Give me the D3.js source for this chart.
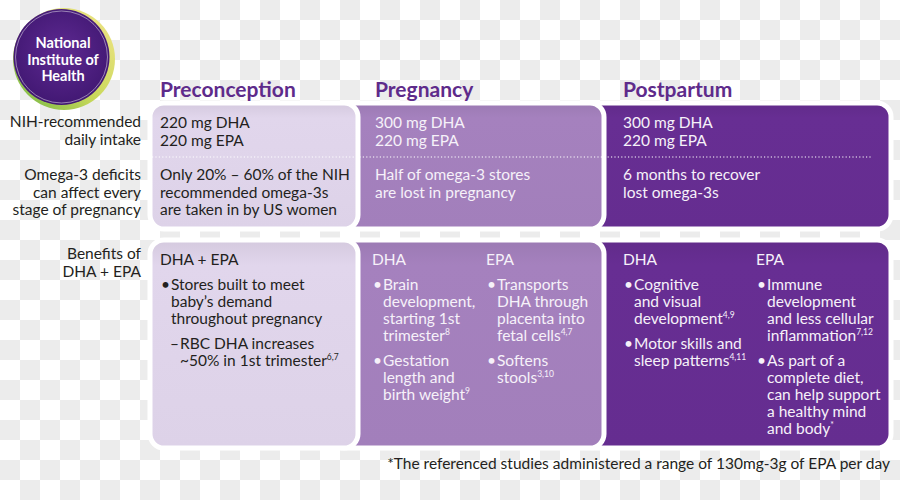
<!DOCTYPE html>
<html><head><meta charset="utf-8">
<script src="https://cdn.jsdelivr.net/npm/d3@7"></script>
<style>body{margin:0;background:#fff;} svg{display:block;font-family:Lato, "Open Sans", sans-serif;}</style>
</head><body><svg id="c" width="900" height="500"></svg>
<script>
// ---------- data ----------
const stages = ["Preconception", "Pregnancy", "Postpartum"];
const rowLabels = [
  ["NIH-recommended", "daily intake"],
  ["Omega-3 deficits", "can affect every", "stage of pregnancy"],
  ["Benefits of", "DHA + EPA"]
];
const intake = [
  ["220 mg DHA", "220 mg EPA"],
  ["300 mg DHA", "220 mg EPA"],
  ["300 mg DHA", "220 mg EPA"]
];
const deficits = [
  ["Only 20% – 60% of the NIH", "recommended omega-3s", "are taken in by US women"],
  ["Half of omega-3 stores", "are lost in pregnancy"],
  ["6 months to recover", "lost omega-3s"]
];
const benefitsPreconception = [
  {head: "DHA + EPA", items: [
    {level: 1, lines: ["Stores built to meet", "baby’s demand", "throughout pregnancy"], sup: ""},
    {level: 2, lines: ["RBC DHA increases", "~50% in 1st trimester"], sup: "6,7"}
  ]}
];
const benefitsPregnancy = [
  {head: "DHA", items: [
    {level: 1, lines: ["Brain", "development,", "starting 1st", "trimester"], sup: "8"},
    {level: 1, lines: ["Gestation", "length and", "birth weight"], sup: "9"}
  ]},
  {head: "EPA", items: [
    {level: 1, lines: ["Transports", "DHA through", "placenta into", "fetal cells"], sup: "4,7"},
    {level: 1, lines: ["Softens", "stools"], sup: "3,10"}
  ]}
];
const benefitsPostpartum = [
  {head: "DHA", items: [
    {level: 1, lines: ["Cognitive", "and visual", "development"], sup: "4,9"},
    {level: 1, lines: ["Motor skills and", "sleep patterns"], sup: "4,11"}
  ]},
  {head: "EPA", items: [
    {level: 1, lines: ["Immune", "development", "and less cellular", "inflammation"], sup: "7,12"},
    {level: 1, lines: ["As part of a", "complete diet,", "can help support", "a healthy mind", "and body"], sup: "*"}
  ]}
];
const benefits = [benefitsPreconception, benefitsPregnancy, benefitsPostpartum];
const logoLines = ["National", "Institute of", "Health"];
const footnote = "*The referenced studies administered a range of 130mg-3g of EPA per day";

// ---------- layout ----------
const FS = 15.5;
const svg = d3.select("#c");
const defs = svg.append("defs");

// checkerboard background (transparent-image look)
const pat = defs.append("pattern").attr("id", "chk").attr("width", 40).attr("height", 40)
  .attr("patternUnits", "userSpaceOnUse");
pat.append("rect").attr("width", 40).attr("height", 40).attr("fill", "#ffffff");
pat.append("rect").attr("x", 20).attr("y", 0).attr("width", 20).attr("height", 20).attr("fill", "#ececec");
pat.append("rect").attr("x", 0).attr("y", 20).attr("width", 20).attr("height", 20).attr("fill", "#ececec");
svg.append("rect").attr("width", 900).attr("height", 500).attr("fill", "url(#chk)");

const fills = ["#ddd2e8", "#a27fbb", "#652d90"];
const textCol = ["#231f20", "#f6f1f9", "#f6f1f9"];
const colX = d3.scaleOrdinal().domain(stages).range([160, 375, 623]);       // text start per stage
const cardL = d3.scaleOrdinal().domain(stages).range([150, 330, 580]);      // card left edge
const cardR = d3.scaleOrdinal().domain(stages).range([358, 604, 891]);      // card right edge
const rowY = {top: [103, 229], bottom: [240, 448]};

// gradients for cards
fills.forEach((f, i) => {
  const g = defs.append("linearGradient").attr("id", "g" + i).attr("x1", 0).attr("y1", 0).attr("x2", 0).attr("y2", 1);
  const c = d3.color(f);
  g.append("stop").attr("offset", 0).attr("stop-color", c.darker(0.12));
  g.append("stop").attr("offset", 0.12).attr("stop-color", c.brighter(0.05));
  g.append("stop").attr("offset", 1).attr("stop-color", f);
});

// cards drawn back to front
const order = stages.map((s, i) => i).reverse();
["top", "bottom"].forEach(r => {
  order.forEach(i => {
    const s = stages[i];
    svg.append("rect")
      .attr("x", cardL(s)).attr("y", rowY[r][0])
      .attr("width", cardR(s) - cardL(s)).attr("height", rowY[r][1] - rowY[r][0])
      .attr("rx", 14).attr("ry", 14)
      .attr("fill", `url(#g${i})`)
      .attr("stroke", "#ffffff").attr("stroke-width", 5);
  });
});

// dotted separator
svg.append("line").attr("x1", 152).attr("x2", 872).attr("y1", 157).attr("y2", 157)
  .attr("stroke", "#ffffff").attr("stroke-width", 1.2).attr("stroke-dasharray", "1.2,2.2");

// stage headers
svg.selectAll("text.hdr").data(stages).join("text").attr("class", "hdr")
  .attr("x", d => colX(d)).attr("y", 97)
  .attr("font-size", 21).attr("font-weight", 700).attr("fill", "#5e2b8b")
  .text(d => d);

// helper: one text element per line
function lines(arr, x, y, lh, col, anchor) {
  svg.append("g").selectAll("text").data(arr).join("text")
    .attr("x", x).attr("y", (d, k) => y + k * lh)
    .attr("font-size", FS).attr("fill", col)
    .attr("text-anchor", anchor || "start")
    .text(d => d);
}

// row labels
const rowBase = [127, 180, 259];
rowLabels.forEach((arr, r) => lines(arr, 141, rowBase[r], 17.5, "#231f20", "end"));

stages.forEach((s, i) => {
  lines(intake[i], colX(s), 128, 18, textCol[i]);
  lines(deficits[i], colX(s), 180, 17.5, textCol[i]);
});

// benefits
const subColX = [[160], [372, 486], [623, 756]];
benefits.forEach((cols, i) => {
  cols.forEach((col, j) => {
    const x = subColX[i][j];
    const c = textCol[i];
    svg.append("text").attr("x", x).attr("y", 265).attr("font-size", FS).attr("fill", c).text(col.head);
    let y = 290;
    col.items.forEach(it => {
      const bx = it.level === 1 ? x + 1 : x + 10;
      const tx = it.level === 1 ? x + 11 : x + 20;
      svg.append("text").attr("x", bx).attr("y", y).attr("font-size", FS).attr("fill", c)
        .text(it.level === 1 ? "•" : "–");
      it.lines.forEach((ln, k) => {
        const t = svg.append("text").attr("x", tx).attr("y", y + k * 17)
          .attr("font-size", FS).attr("fill", c);
        t.append("tspan").text(ln);
        if (it.sup && k === it.lines.length - 1) {
          t.append("tspan").attr("font-size", 8.5).attr("dy", -6).text(it.sup);
        }
      });
      y += it.lines.length * 17 + 8;
    });
  });
});

// footnote
svg.append("text").attr("x", 890).attr("y", 469).attr("text-anchor", "end")
  .attr("font-size", FS).attr("fill", "#231f20").text(footnote);

// logo
const lg = defs.append("linearGradient").attr("id", "ring").attr("x1", 0).attr("y1", 1).attr("x2", 1).attr("y2", 0);
lg.append("stop").attr("offset", 0).attr("stop-color", "#6fb544");
lg.append("stop").attr("offset", 0.45).attr("stop-color", "#c8d85a");
lg.append("stop").attr("offset", 1).attr("stop-color", "#f3e58a");
const rg = defs.append("radialGradient").attr("id", "disc").attr("cx", 0.5).attr("cy", 0.45).attr("r", 0.6);
rg.append("stop").attr("offset", 0).attr("stop-color", "#5e2a92");
rg.append("stop").attr("offset", 1).attr("stop-color", "#3f1670");
const logo = svg.append("g");
logo.append("circle").attr("cx", 64).attr("cy", 59).attr("r", 51).attr("fill", "url(#ring)");
logo.append("circle").attr("cx", 61.5).attr("cy", 57).attr("r", 48).attr("fill", "url(#disc)");
logo.append("circle").attr("cx", 61.5).attr("cy", 57).attr("r", 46).attr("fill", "none")
  .attr("stroke", "#ffffff").attr("stroke-opacity", 0.45).attr("stroke-width", 1);
logo.append("g").selectAll("text").data(logoLines).join("text")
  .attr("text-anchor", "middle").attr("font-size", 14.5).attr("font-weight", 700)
  .attr("fill", "#ffffff")
  .attr("x", 63).attr("y", (d, k) => 48 + k * 16.5).text(d => d);
</script>
</body></html>
